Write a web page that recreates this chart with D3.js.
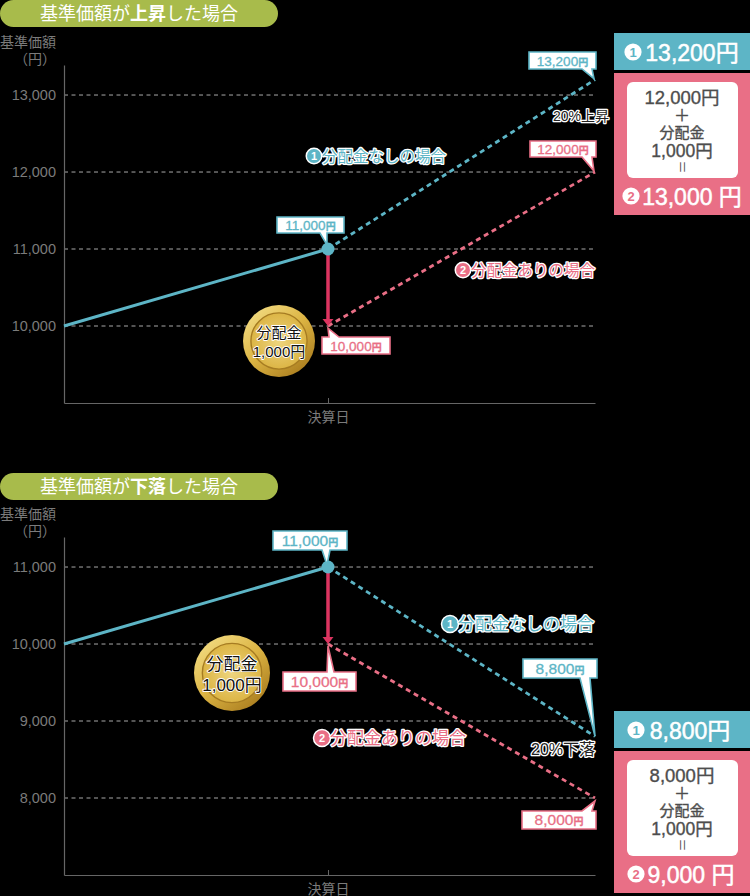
<!DOCTYPE html>
<html lang="ja">
<head>
<meta charset="utf-8">
<script src="https://cdnjs.cloudflare.com/ajax/libs/d3/7.8.5/d3.min.js"></script>
<style>
  html, body { margin: 0; padding: 0; background: #000; }
  svg { display: block; }
  text { font-family: "Liberation Sans", "Noto Sans CJK JP", sans-serif; }
</style>
</head>
<body>
<div id="chart"></div>
<script>
// Chart values
const stages = [0, 1, 2];
const stageLabels = ['', '決算日', ''];
const yLabel = ['基準価額', '（円）'];

const upTicks = [10000, 11000, 12000, 13000];
const upBefore = [10000, 11000];
const upNoDist = [11000, 13200];
const upWithDist = [10000, 12000];

const downTicks = [8000, 9000, 10000, 11000];
const downBefore = [10000, 11000];
const downNoDist = [11000, 8800];
const downWithDist = [10000, 8000];

const distribution = [11000, 10000];

const colors = {
  teal: '#5db5c6', pink: '#e96f86', red: '#dc3460', pill: '#a8bb4b',
  grid: '#a8a8a8', axis: '#666', tick: '#7b7b7b', ink: '#4d4d4d'
};

const svg = d3.select('#chart').append('svg').attr('width', 750).attr('height', 896);
const defs = svg.append('defs');

// Gold coin gradients
const coinFill = defs.append('linearGradient').attr('id', 'coinFill')
  .attr('x1', '10%').attr('y1', '5%').attr('x2', '85%').attr('y2', '95%');
coinFill.append('stop').attr('offset', '0%').attr('stop-color', '#f3dd84');
coinFill.append('stop').attr('offset', '50%').attr('stop-color', '#dcb443');
coinFill.append('stop').attr('offset', '100%').attr('stop-color', '#a97c1e');
const coinFace = defs.append('radialGradient').attr('id', 'coinFace');
coinFace.append('stop').attr('offset', '0%').attr('stop-color', '#eed57f');
coinFace.append('stop').attr('offset', '100%').attr('stop-color', '#dcb545');

function outlined(sel, stroke, width) {
  return sel.attr('stroke', stroke).attr('stroke-width', width)
    .attr('stroke-linejoin', 'round').attr('paint-order', 'stroke');
}

function pill(top, parts) {
  svg.append('rect').attr('x', 0).attr('y', top).attr('width', 278).attr('height', 27)
    .attr('rx', 13.5).attr('fill', colors.pill);
  const t = svg.append('text').attr('x', 139).attr('y', top + 20).attr('text-anchor', 'middle')
    .attr('font-size', 18).attr('fill', '#fff');
  parts.forEach(p => t.append('tspan').attr('font-weight', p[1] ? 700 : 400).text(p[0]));
}

// Speech bubble: box plus a tail that ends on the data point
function callout(label, color, box, tip, tail) {
  const [l, t, r, b] = box;
  const onBottom = tip[1] > b;
  const edge = onBottom ? b : t;
  const pts = onBottom
    ? [[l, t], [r, t], [r, b], [tail[1], edge], tip, [tail[0], edge], [l, b]]
    : [[l, t], [tail[0], edge], tip, [tail[1], edge], [r, t], [r, b], [l, b]];
  svg.append('path').attr('d', d3.line()(pts) + 'Z')
    .attr('fill', '#fff').attr('stroke', color).attr('stroke-width', 1.6);
  const txt = svg.append('text').attr('x', (l + r) / 2).attr('y', (t + b) / 2 + 5)
    .attr('text-anchor', 'middle').attr('fill', color).attr('stroke', color).attr('stroke-width', 0.3)
    .attr('font-size', b - t >= 18 ? 15.5 : 13.5);
  txt.append('tspan').text(label);
  txt.append('tspan').attr('font-size', 10).attr('font-weight', 700).text('円');
}

function seriesLabel(cx, cy, num, label, color, size) {
  const g = svg.append('g');
  g.append('circle').attr('cx', cx).attr('cy', cy).attr('r', size / 2)
    .attr('fill', color).attr('stroke', '#fff').attr('stroke-width', 1.5);
  g.append('text').attr('x', cx).attr('y', cy + 4).attr('text-anchor', 'middle')
    .attr('font-size', 11).attr('font-weight', 700).attr('fill', '#fff').text(num);
  g.append('text').attr('x', cx + 8).attr('y', cy + size * 0.36).attr('font-size', size)
    .attr('fill', color).call(outlined, '#fff', 2.6).text(label);
}

function coin(cx, cy, r, size) {
  const g = svg.append('g');
  g.append('circle').attr('cx', cx).attr('cy', cy).attr('r', r).attr('fill', 'url(#coinFill)');
  g.append('circle').attr('cx', cx).attr('cy', cy).attr('r', r * 0.78)
    .attr('fill', 'url(#coinFace)').attr('stroke', '#a67c22').attr('stroke-width', 1.4);
  ['分配金', '1,000円'].forEach((s, i) => {
    g.append('text').attr('x', cx).attr('y', cy + (i ? size + 1 : -3)).attr('text-anchor', 'middle')
      .attr('font-size', size).attr('fill', '#111').call(outlined, '#fff', 1.8).text(s);
  });
}

function badgeValue(cx, cy, badgeX, num, label, numColor) {
  svg.append('circle').attr('cx', badgeX).attr('cy', cy).attr('r', 8.6).attr('fill', '#fff');
  svg.append('text').attr('x', badgeX).attr('y', cy + 4.6).attr('text-anchor', 'middle')
    .attr('font-size', 13).attr('font-weight', 700).attr('fill', numColor).text(num);
  svg.append('text').attr('x', cx).attr('y', cy + 8.5).attr('text-anchor', 'middle')
    .attr('font-size', 23).attr('fill', '#fff').attr('stroke', '#fff').attr('stroke-width', 0.5)
    .text(label);
}

function sidePanel(p) {
  svg.append('rect').attr('x', 614).attr('y', p.tealTop).attr('width', 136).attr('height', 37).attr('fill', colors.teal);
  badgeValue(p.tealCx, p.tealTop + 19, p.tealBadge, '1', p.noDist, colors.teal);
  svg.append('rect').attr('x', 614).attr('y', p.pinkTop).attr('width', 136).attr('height', 142).attr('fill', colors.pink);
  svg.append('rect').attr('x', 627).attr('y', p.pinkTop + 9).attr('width', 111).attr('height', 96).attr('rx', 6).attr('fill', '#fff');
  const top = p.pinkTop;
  [[25, p.afterFall, 18.5], [42, '＋', 16], [59, '分配金', 15], [78, '1,000円', 17.5]].forEach(d => {
    svg.append('text').attr('x', 682).attr('y', top + d[0] + 6).attr('text-anchor', 'middle')
      .attr('font-size', d[2]).attr('fill', colors.ink).attr('stroke', colors.ink).attr('stroke-width', 0.35).text(d[1]);
  });
  svg.append('text').attr('transform', `translate(682,${top + 94}) rotate(90)`).attr('text-anchor', 'middle')
    .attr('y', 4).attr('font-size', 13).attr('fill', colors.ink).text('＝');
  badgeValue(p.pinkCx, top + 123, p.pinkBadge, '2', p.withDist, colors.pink);
}

function drawChart(c) {
  const x = d3.scaleLinear().domain(stages).range([64, 328, 595]);
  const y = d3.scaleLinear().domain(c.domain).range(c.range);
  const root = svg.append('g');

  // Dashed grid lines
  root.selectAll('.grid').data(c.ticks).enter().append('line')
    .attr('x1', x(0)).attr('x2', x(2))
    .attr('y1', d => y(d)).attr('y2', d => y(d))
    .attr('stroke', colors.grid).attr('stroke-width', 1).attr('stroke-dasharray', '4,3.5');

  // Axes
  const yAxis = d3.axisLeft(y).tickValues(c.ticks).tickSize(0).tickPadding(8).tickFormat(d3.format(','));
  const yNode = root.append('g').attr('transform', `translate(${x(0)},0)`).call(yAxis);
  yNode.select('path').attr('stroke', colors.axis).attr('stroke-width', 1.2);
  yNode.selectAll('text').attr('fill', colors.tick).attr('font-size', 14.5)
    .attr('font-family', '"Liberation Sans", sans-serif');

  const xAxis = d3.axisBottom(x).tickValues([1]).tickSizeInner(-5).tickSizeOuter(0).tickPadding(9).tickFormat(d => stageLabels[d]);
  const xNode = root.append('g').attr('transform', `translate(0,${y(c.domain[0])})`).call(xAxis);
  xNode.select('path').attr('stroke', colors.axis).attr('stroke-width', 1.2);
  xNode.selectAll('line').attr('stroke', colors.axis);
  xNode.selectAll('text').attr('fill', colors.tick).attr('font-size', 14);

  // Y axis caption
  yLabel.forEach((s, i) => {
    root.append('text').attr('x', 56).attr('y', c.captionY + i * 17).attr('text-anchor', 'end')
      .attr('font-size', 14).attr('fill', colors.tick).text(s);
  });

  const line = d3.line().x(d => x(d[0])).y(d => y(d[1]));
  const seg = (vals, from) => vals.map((v, i) => [from + i, v]);

  root.append('path').attr('d', line(seg(c.noDist, 1))).attr('fill', 'none')
    .attr('stroke', colors.teal).attr('stroke-width', 2.8).attr('stroke-dasharray', '5,4');
  root.append('path').attr('d', line(seg(c.withDist, 1))).attr('fill', 'none')
    .attr('stroke', colors.pink).attr('stroke-width', 2.8).attr('stroke-dasharray', '5,4');
  root.append('path').attr('d', line(seg(c.before, 0))).attr('fill', 'none')
    .attr('stroke', colors.teal).attr('stroke-width', 3);

  // Distribution arrow
  const ax = x(1), ay = y(distribution[1]);
  root.append('line').attr('x1', ax).attr('x2', ax).attr('y1', y(distribution[0])).attr('y2', ay - 6)
    .attr('stroke', colors.red).attr('stroke-width', 3.5);
  root.append('path').attr('d', d3.line()([[ax - 5.5, ay - 7], [ax + 5.5, ay - 7], [ax, ay]]) + 'Z').attr('fill', colors.red);
  root.append('circle').attr('cx', ax).attr('cy', y(distribution[0])).attr('r', 6.5).attr('fill', colors.teal);

  c.callouts(x, y);
  c.notes();
}

pill(0, [['基準価額が', 0], ['上昇', 1], ['した場合', 0]]);
drawChart({
  domain: [9000, 13390], range: [403, 65], ticks: upTicks, captionY: 47,
  before: upBefore, noDist: upNoDist, withDist: upWithDist,
  callouts: (x, y) => {
    callout('13,200', colors.teal, [529, 52, 596, 69], [x(2) - 1, y(upNoDist[1]) - 1], [582, 592]);
    callout('12,000', colors.pink, [530, 141, 596, 157], [x(2) - 1, y(upWithDist[1]) - 1], [582, 592]);
    callout('11,000', colors.teal, [277, 217, 344, 233], [x(1) - 1, y(11000) - 4], [320, 327]);
    callout('10,000', colors.pink, [322, 337, 390, 354], [x(1), y(10000) + 2], [329, 339]);
  },
  notes: () => {
    seriesLabel(314, 156, '1', '分配金なしの場合', colors.teal, 15.5);
    seriesLabel(463, 270, '2', '分配金ありの場合', colors.pink, 15.5);
    svg.append('text').attr('x', 581).attr('y', 121).attr('text-anchor', 'middle').attr('font-size', 14)
      .attr('fill', '#222').call(outlined, '#fff', 2.6).text('20%上昇');
    coin(279, 341, 36, 15);
  }
});
sidePanel({
  tealTop: 33, tealCx: 692, tealBadge: 633, noDist: '13,200円',
  pinkTop: 73, afterFall: '12,000円', pinkCx: 692, pinkBadge: 631, withDist: '13,000 円'
});

pill(473, [['基準価額が', 0], ['下落', 1], ['した場合', 0]]);
drawChart({
  domain: [7000, 11390], range: [875, 537], ticks: downTicks, captionY: 519,
  before: downBefore, noDist: downNoDist, withDist: downWithDist,
  callouts: (x, y) => {
    callout('11,000', colors.teal, [273, 531, 347, 550], [x(1) - 1, y(11000) - 2], [322, 330]);
    callout('10,000', colors.pink, [283, 672, 356, 691], [x(1), y(10000) + 2], [327, 334]);
    callout('8,800', colors.teal, [523, 659, 597, 678], [x(2), y(downNoDist[1])], [580, 590]);
    callout('8,000', colors.pink, [522, 811, 596, 829], [x(2), y(downWithDist[1]) + 3], [582, 592]);
  },
  notes: () => {
    seriesLabel(450, 624, '1', '分配金なしの場合', colors.teal, 17);
    seriesLabel(322, 738, '2', '分配金ありの場合', colors.pink, 17);
    svg.append('text').attr('x', 563).attr('y', 755).attr('text-anchor', 'middle').attr('font-size', 16)
      .attr('fill', '#222').call(outlined, '#fff', 2.6).text('20%下落');
    coin(232, 673, 38, 17);
  }
});
sidePanel({
  tealTop: 711, tealCx: 690, tealBadge: 636, noDist: '8,800円',
  pinkTop: 751, afterFall: '8,000円', pinkCx: 691, pinkBadge: 636, withDist: '9,000 円'
});
</script>
</body>
</html>
